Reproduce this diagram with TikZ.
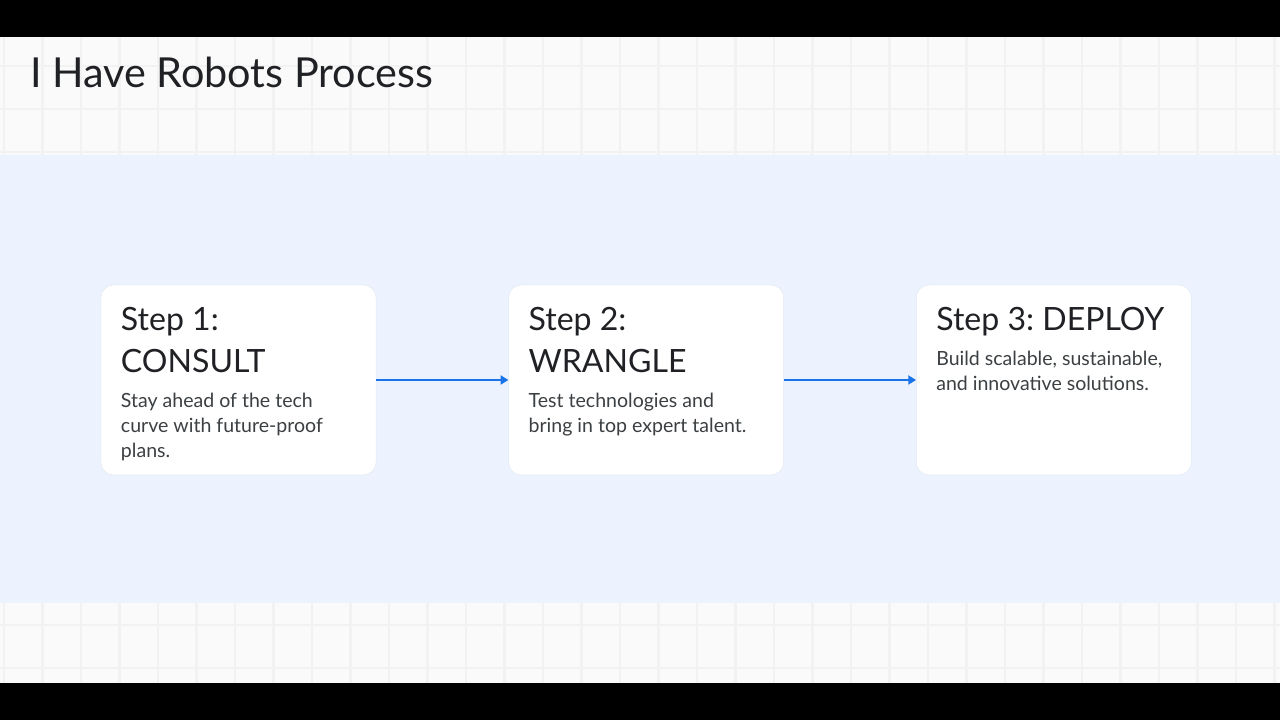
\documentclass[tikz,border=0pt]{standalone}
\usepackage{fontspec}
\setmainfont{Lato}
\usepackage{tikz}
\usetikzlibrary{positioning, arrows.meta}
\usepackage{xcolor}
\definecolor{bandblue}{HTML}{ECF3FE}
\definecolor{pagewhite}{HTML}{FAFAFA}
\definecolor{gridgray}{HTML}{F2F2F2}
\definecolor{headtext}{HTML}{202124}
\definecolor{bodytext}{HTML}{3C4043}
\definecolor{flowblue}{HTML}{1A73E8}
\definecolor{cardedge}{HTML}{E4EAF3}

\begin{document}
\begin{tikzpicture}[
        x=0.025cm, y=0.025cm,
        node distance=3.3cm,
        stepbox/.style={rectangle, draw=cardedge, fill=white, line width=0.4pt,
          minimum height=4.75cm, minimum width=6.875cm,
          rounded corners=9pt, inner sep=0pt},
        stephead/.style={anchor=north west, inner sep=0pt,
          align=left, color=headtext,
          font=\fontsize{22.8}{30}\selectfont\frenchspacing},
        stepbody/.style={anchor=north west, inner sep=0pt,
          align=left, color=bodytext,
          font=\fontsize{13.9}{17.8}\selectfont\frenchspacing},
        arr/.style={-{Triangle[length=5.5pt, width=6.5pt]}, line width=1.1pt,
          color=flowblue},
      ]
        \useasboundingbox (0,0) rectangle (1280,720);
        \fill[black] (0,0) rectangle (1280,720);
        \fill[pagewhite] (0,37) rectangle (1280,683);
        \foreach \gx in {4,42.5,...,1280}
          \draw[gridgray, line width=1.5pt] (\gx,37) -- (\gx,683);
        \foreach \gy in {52,95,...,683}
          \draw[gridgray, line width=1.5pt] (0,\gy) -- (1280,\gy);
        \fill[bandblue] (0,117) rectangle (1280,565);

        \node[anchor=base west, inner sep=0pt, color=headtext,
          font=\fontsize{29.4}{36}\selectfont] (title) at (30,632)
          {I Have Robots Process};

        \node[stepbox] (consult) at (238.5,340) {};
        \node[stepbox, right=of consult] (wrangle) {};
        \node[stepbox, right=of wrangle] (deploy) {};

        \node[stephead] (consulthead) at ([shift={(20,-22)}]consult.north west)
          {Step 1:\\CONSULT};
        \node[stepbody] (consultbody) at ([shift={(20,-108)}]consult.north west)
          {Stay ahead of the tech\\curve with future-proof\\plans.};

        \node[stephead] (wranglehead) at ([shift={(20,-22)}]wrangle.north west)
          {Step 2:\\WRANGLE};
        \node[stepbody] (wranglebody) at ([shift={(20,-108)}]wrangle.north west)
          {Test technologies and\\bring in top expert talent.};

        \node[stephead] (deployhead) at ([shift={(20,-22)}]deploy.north west)
          {Step 3: DEPLOY};
        \node[stepbody] (deploybody) at ([shift={(20,-66)}]deploy.north west)
          {Build scalable, sustainable,\\and innovative solutions.};

        \draw[arr] (consult.east) -- (wrangle.west);
        \draw[arr] (wrangle.east) -- (deploy.west);
      \end{tikzpicture}
\end{document}
